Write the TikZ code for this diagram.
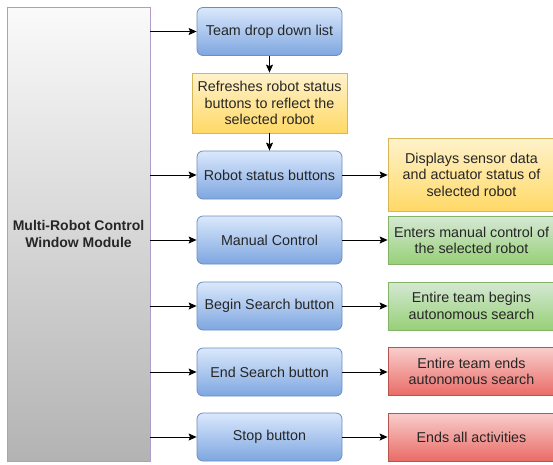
\documentclass[tikz,border=0pt]{standalone}
\usepackage{fontspec}
\setmainfont{Liberation Sans}
\usepackage{tikz}
\usetikzlibrary{positioning, arrows.meta, calc}
\definecolor{BtnTop}{HTML}{DAE8FC}
\definecolor{BtnBot}{HTML}{7EA6E0}
\definecolor{BtnLine}{HTML}{6C8EBF}
\definecolor{NoteTop}{HTML}{FFF2CC}
\definecolor{NoteBot}{HTML}{FFD966}
\definecolor{NoteLine}{HTML}{D6B656}
\definecolor{GoTop}{HTML}{D5E8D4}
\definecolor{GoBot}{HTML}{97D077}
\definecolor{GoLine}{HTML}{82B366}
\definecolor{HaltTop}{HTML}{F8CECC}
\definecolor{HaltBot}{HTML}{EA6B66}
\definecolor{HaltLine}{HTML}{B85450}
\definecolor{ModTop}{HTML}{FAFAFA}
\definecolor{ModBot}{HTML}{B3B3B3}
\definecolor{ModLine}{HTML}{B39BC8}
\definecolor{Ink}{HTML}{262626}
\tikzset{
    boxtext/.style={font=\fontsize{14.3}{16.5}\selectfont, text=Ink, align=center, inner sep=2pt},
    module/.style={boxtext, draw=ModLine, line width=0.9pt, top color=ModTop, bottom color=ModBot,
        minimum width=143pt, minimum height=454pt, font=\fontsize{14}{16.5}\selectfont\bfseries},
    button/.style={boxtext, draw=BtnLine, line width=0.8pt, rounded corners=6pt, top color=BtnTop, bottom color=BtnBot,
        minimum width=145pt, minimum height=48pt},
    note/.style={boxtext, draw=NoteLine, line width=0.8pt, top color=NoteTop, bottom color=NoteBot,
        minimum width=155pt, minimum height=60pt},
    result/.style={boxtext, line width=0.8pt, minimum width=167pt, minimum height=48pt},
    okres/.style={result, draw=NoteLine, top color=NoteTop, bottom color=NoteBot},
    gores/.style={result, draw=GoLine, top color=GoTop, bottom color=GoBot},
    haltres/.style={result, draw=HaltLine, top color=HaltTop, bottom color=HaltBot},
    link/.style={-{Stealth[length=8pt,width=7pt,inset=1.5pt]}, line width=0.9pt, draw=black}
}
\begin{document}
\begin{tikzpicture}[x=1pt, y=-1pt]
    \useasboundingbox (0,0) rectangle (553,464);
    % left module
    \node[module] (mod) at (78.5,234) {Multi-Robot Control\\Window Module};
    % button column
    \node[button] (team) at (269.5,31.5) {Team drop down list};
    \node[note] (refresh) at (269.5,103) {Refreshes robot status\\buttons to reflect the\\selected robot};
    \node[button] (status) at (269.5,175) {Robot status buttons};
    \node[button] (manual) at (269.5,240) {Manual Control};
    \node[button] (begin) at (269.5,306) {Begin Search button};
    \node[button] (endsrch) at (269.5,372) {End Search button};
    \node[button] (stop) at (269.5,437) {Stop button};
    % results column
    \node[okres, minimum height=73pt] (showdata) at (471.5,174.5) {Displays sensor data\\and actuator status of\\selected robot};
    \node[gores] (takeover) at (471.5,240.5) {Enters manual control of\\the selected robot};
    \node[gores] (teamgo) at (471.5,306) {Entire team begins\\autonomous search};
    \node[haltres] (teamhalt) at (471.5,371.5) {Entire team ends\\autonomous search};
    \node[haltres] (allhalt) at (471.5,437) {Ends all activities};
    % module to buttons
    \foreach \btn in {team, status, manual, begin, endsrch, stop}
        \draw[link] (mod.east |- \btn) -- (\btn.west);
    % team list chain
    \draw[link] (team.south) -- (refresh.north);
    \draw[link] (refresh.south) -- (status.north);
    % buttons to results
    \draw[link] (status.east) -- (showdata.west |- status);
    \draw[link] (manual) -- (takeover.west |- manual);
    \draw[link] (begin) -- (teamgo.west |- begin);
    \draw[link] (endsrch) -- (teamhalt.west |- endsrch);
    \draw[link] (stop) -- (allhalt.west |- stop);
\end{tikzpicture}
\end{document}
